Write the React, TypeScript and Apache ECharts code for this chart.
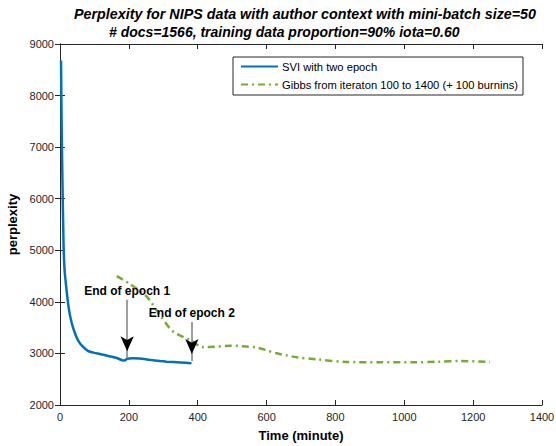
import React, { useEffect, useRef } from "react";
import * as echarts from "echarts";

const titleLine1 = "Perplexity for NIPS data with author context with mini-batch size=50";
const titleLine2 = "# docs=1566, training data proportion=90% iota=0.60";
const xTickMin = 0;
const xTickMax = 1400;
const xTickStep = 200;
const yTickMin = 2000;
const yTickMax = 9000;
const yTickStep = 1000;

const sviName = "SVI with two epoch";
const sviTime = [3, 5, 7, 10, 13, 19, 26, 34, 43, 52, 65, 81, 100, 116, 140, 165, 184, 190, 195, 210, 230, 261, 290, 310, 350, 382];
const sviPerp = [8680, 7300, 6400, 5200, 4650, 4230, 3850, 3590, 3400, 3260, 3140, 3050, 3010, 2990, 2950, 2910, 2862, 2870, 2895, 2905, 2900, 2875, 2852, 2840, 2825, 2808];

const gibbsName = "Gibbs from iteraton 100 to 1400 (+ 100 burnins)";
const gibbsTime = [165, 200, 252, 290, 329, 378, 416, 450, 494, 530, 571, 600, 629, 660, 688, 746, 833, 930, 1026, 1100, 1162, 1249];
const gibbsPerp = [4500, 4360, 4100, 3745, 3422, 3260, 3120, 3130, 3150, 3140, 3115, 3060, 3003, 2960, 2925, 2886, 2834, 2830, 2828, 2840, 2853, 2834];

const epoch1Label = "End of epoch 1";
const epoch1At = [195, 4040, 2905];
const epoch2Label = "End of epoch 2";
const epoch2At = [383, 3610, 2855];

const FONT = "'Liberation Sans', Arial, Helvetica, sans-serif";
const AX = "#262626";

export default function App() {
  const ref = useRef<HTMLDivElement>(null);
  useEffect(() => {
    if (!ref.current) return;
    const chart = echarts.init(ref.current, null, { renderer: "svg" });
    const sviData = sviTime.map((t, i) => [t, sviPerp[i]]);
    const gibbsData = gibbsTime.map((t, i) => [t, gibbsPerp[i]]);

    const arrowMark = (at: number[], label: string) => ({
      symbol: ["none", "none"],
      silent: true,
      lineStyle: { color: "#7f7f7f", width: 1.5, type: "solid" },
      label: {
        show: true,
        position: "start",
        formatter: label,
        fontFamily: FONT,
        fontWeight: "bold",
        fontSize: 12,
        color: "#000",
        distance: 3,
      },
      data: [[{ coord: [at[0], at[1]] }, { coord: [at[0], at[2]] }]],
    });

    const plain = (v: number) => String(v);

    const option: any = {
      animation: false,
      textStyle: { fontFamily: FONT },
      title: [
        {
          text: titleLine1,
          left: 300,
          textAlign: "center",
          top: 2,
          textStyle: { fontFamily: FONT, fontStyle: "italic", fontWeight: "bold", fontSize: 14.3, color: "#000" },
        },
        {
          text: titleLine2,
          left: 104,
          top: 20,
          textStyle: { fontFamily: FONT, fontStyle: "italic", fontWeight: "bold", fontSize: 14, color: "#000" },
        },
      ],
      legend: {
        orient: "vertical",
        left: 233,
        top: 57,
        itemWidth: 37,
        itemHeight: 10,
        itemGap: 7,
        padding: [4, 5, 5, 7],
        borderColor: AX,
        borderWidth: 1,
        backgroundColor: "#fff",
        itemStyle: { color: "transparent", borderWidth: 0, opacity: 0 },
        textStyle: { fontFamily: FONT, fontSize: 11.2, color: "#000", padding: [0, 0, 0, -1] },
        data: [sviName, gibbsName],
      },
      grid: { left: 60, right: 14, top: 44, bottom: 41, containLabel: false, outerBoundsMode: "none" },
      xAxis: [
        {
          type: "value",
          min: xTickMin,
          max: xTickMax,
          interval: xTickStep,
          name: "Time (minute)",
          nameLocation: "middle",
          nameGap: 24,
          nameTextStyle: { fontFamily: FONT, fontWeight: "bold", fontSize: 13, color: "#000" },
          axisLine: { lineStyle: { color: AX, width: 1 } },
          axisTick: { inside: true, length: 5, lineStyle: { color: AX } },
          axisLabel: { color: AX, fontSize: 11, fontFamily: FONT, margin: 6, formatter: plain },
          splitLine: { show: false },
        },
        {
          type: "value",
          position: "top",
          min: xTickMin,
          max: xTickMax,
          interval: xTickStep,
          axisLine: { lineStyle: { color: AX, width: 1 } },
          axisTick: { inside: true, length: 5, lineStyle: { color: AX } },
          axisLabel: { show: false },
          splitLine: { show: false },
        },
      ],
      yAxis: [
        {
          type: "value",
          min: yTickMin,
          max: yTickMax,
          interval: yTickStep,
          name: "perplexity",
          nameLocation: "middle",
          nameGap: 35,
          nameTextStyle: { fontFamily: FONT, fontWeight: "bold", fontSize: 13, color: "#000" },
          axisLine: { show: true, lineStyle: { color: AX, width: 1 } },
          axisTick: { show: true, inside: true, length: 5, lineStyle: { color: AX } },
          axisLabel: { color: AX, fontSize: 11, fontFamily: FONT, margin: 6, formatter: plain },
          splitLine: { show: false },
        },
        {
          type: "value",
          position: "right",
          min: yTickMin,
          max: yTickMax,
          interval: yTickStep,
          axisLine: { show: true, lineStyle: { color: AX, width: 1 } },
          axisTick: { show: true, inside: true, length: 5, lineStyle: { color: AX } },
          axisLabel: { show: false },
          splitLine: { show: false },
        },
      ],
      series: [
        {
          name: sviName,
          type: "line",
          data: sviData,
          showSymbol: false,
          symbol: "none",
          smooth: 0.2,
          lineStyle: { color: "#0072BD", width: 2.5 },
          itemStyle: { color: "#0072BD" },
          z: 3,
          markLine: arrowMark(epoch1At, epoch1Label),
          markPoint: {
            silent: true,
            symbol: "arrow",
            symbolSize: [10, 15],
            symbolRotate: 180,
            symbolOffset: [0, -7],
            itemStyle: { color: "#000", opacity: 1 },
            label: { show: false },
            data: [{ coord: [epoch1At[0], epoch1At[2]] }, { coord: [epoch2At[0], epoch2At[2]] }],
          },
        },
        {
          name: gibbsName,
          type: "line",
          data: gibbsData,
          showSymbol: false,
          symbol: "none",
          smooth: 0.3,
          lineStyle: { color: "#77AC30", width: 2.5, type: [7, 4, 2, 4] },
          itemStyle: { color: "#77AC30" },
          z: 2,
          markLine: arrowMark(epoch2At, epoch2Label),
        },
      ],
    };
    chart.setOption(option);
    return () => chart.dispose();
  }, []);
  return <div ref={ref} style={{ position: "fixed", left: 0, top: 0, width: 556, height: 446, background: "#fff" }} />;
}
